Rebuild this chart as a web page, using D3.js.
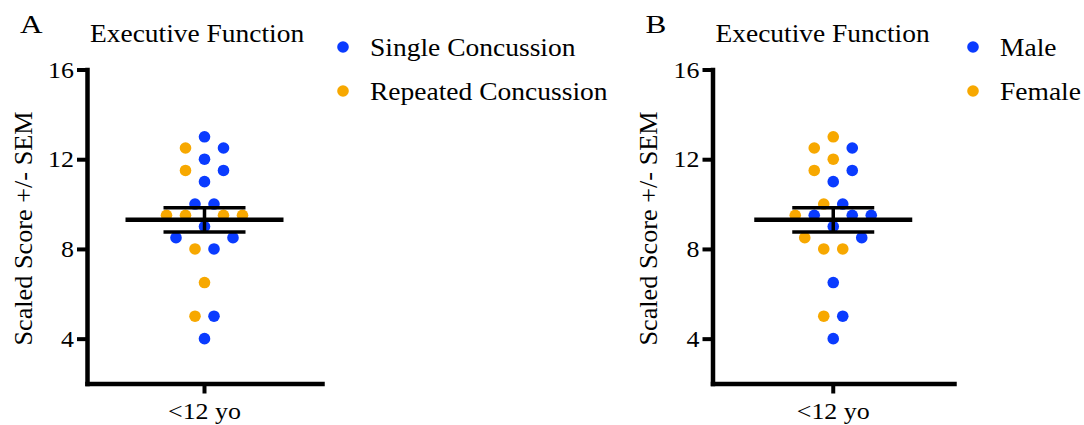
<!DOCTYPE html>
<html>
<head>
<meta charset="utf-8">
<script src="https://cdn.jsdelivr.net/npm/d3@7"></script>
<style>
  html, body { margin: 0; padding: 0; background: #fff; }
  svg { display: block; font-family: "Liberation Serif", "Times New Roman", serif; }
</style>
</head>
<body>
<svg id="chart" width="1084" height="425"></svg>
<script>
// ---- data ----
const categories = ["<12 yo"];
const yTicks = [4, 8, 12, 16];
const yDomain = [2, 16];
const panelLabels = ["A", "B"];
const panelTitle = "Executive Function";
const yAxisTitle = "Scaled Score +/- SEM";

// Panel A
const legendA = ["Single Concussion", "Repeated Concussion"];
const singleValues = [13, 12.5, 12, 11.5, 11, 10, 10, 9, 8.5, 8.5, 8, 5, 4];
const repeatedValues = [12.5, 11.5, 9.5, 9.5, 9.5, 9.5, 8, 6.5, 5];

// Panel B
const legendB = ["Male", "Female"];
const maleValues = [12.5, 11.5, 11, 10, 9.5, 9.5, 9.5, 9, 8.5, 6.5, 5, 4];
const femaleValues = [13, 12.5, 12, 11.5, 10, 9.5, 8.5, 8, 8, 5];

const colors = ["#0a3bff", "#f7a800"];

// ---- drawing ----
const svg = d3.select("#chart");
const R = 5.8;
const SLOT = 9.5;

// widen glyphs slightly (reference type is set wider than Liberation Serif)
function widen(sel, k) {
  sel.each(function () {
    const w = this.getComputedTextLength();
    d3.select(this).attr("textLength", w * k).attr("lengthAdjust", "spacingAndGlyphs");
  });
}

function drawPanel(cfg) {
  const g = svg.append("g");
  const y = d3.scaleLinear().domain(yDomain).range([383.5, 69.5]);
  const x = d3.scaleBand().domain(categories).range([cfg.x0, cfg.x1]);
  const cx = x(categories[0]) + x.bandwidth() / 2;

  // points
  const pts = [];
  cfg.series.forEach((vals, gi) => vals.forEach(v => pts.push({ v, gi })));
  pts.sort((a, b) => a.v - b.v || a.gi - b.gi);
  let i = 0;
  while (i < pts.length) {
    const start = y(pts[i].v);
    const bin = [];
    while (i < pts.length && start - y(pts[i].v) < R * 3) { bin.push(pts[i]); i++; }
    bin.sort((a, b) => a.v - b.v || a.gi - b.gi);
    const n = bin.length;
    bin.forEach((p, k) => {
      if (n % 2 === 1) {
        p.off = k === 0 ? 0 : (k % 2 === 1 ? 1 : -1) * 2 * Math.ceil(k / 2);
      } else {
        p.off = (k % 2 === 0 ? 1 : -1) * (2 * Math.floor(k / 2) + 1);
      }
    });
  }

  g.selectAll("circle.pt").data(pts).join("circle")
    .attr("class", "pt")
    .attr("cx", d => cx + d.off * SLOT)
    .attr("cy", d => y(d.v))
    .attr("r", R)
    .attr("fill", d => colors[d.gi]);

  // mean +/- SEM
  const all = pts.map(p => p.v);
  const mean = d3.mean(all);
  const sem = d3.deviation(all) / Math.sqrt(all.length);
  g.append("line").attr("x1", cx).attr("x2", cx)
    .attr("y1", y(mean + sem)).attr("y2", y(mean - sem))
    .attr("stroke", "#000").attr("stroke-width", 3.5);
  [mean + sem, mean - sem].forEach(v => {
    g.append("line").attr("x1", cx - 41).attr("x2", cx + 41)
      .attr("y1", y(v)).attr("y2", y(v))
      .attr("stroke", "#000").attr("stroke-width", 3.5);
  });
  g.append("line").attr("x1", cx - 79).attr("x2", cx + 79)
    .attr("y1", y(mean)).attr("y2", y(mean))
    .attr("stroke", "#000").attr("stroke-width", 4.5);

  // axes
  const ya = g.append("g").attr("transform", `translate(${cfg.x0},0)`)
    .call(d3.axisLeft(y).tickValues(yTicks).tickSize(10).tickSizeOuter(0).tickPadding(3));
  const xa = g.append("g").attr("transform", `translate(0,${y(yDomain[0])})`)
    .call(d3.axisBottom(x).tickSize(10).tickSizeOuter(0).tickPadding(8));
  [ya, xa].forEach(a => {
    a.select(".domain").attr("stroke", "#000").attr("stroke-width", 4.5).attr("stroke-linecap", "square");
    a.selectAll(".tick line").attr("stroke", "#000").attr("stroke-width", 4);
    a.selectAll("text").attr("font-size", 24).attr("font-family", "Liberation Serif").attr("fill", "#000");
    widen(a.selectAll("text"), 1.08);
  });

  // y axis title
  const yt = g.append("text")
    .attr("transform", `translate(${cfg.x0 - 64},${(y(yDomain[0]) + y(yDomain[1])) / 2 + 2}) rotate(-90)`)
    .attr("text-anchor", "middle").attr("dominant-baseline", "central")
    .attr("font-size", 25).text(yAxisTitle);
  widen(yt, 1.05);

  // panel label and title
  const pl = g.append("text").attr("x", cfg.x0 - 67).attr("y", 33).attr("font-size", 26).text(cfg.label);
  widen(pl, 1.2);
  const tt = g.append("text").attr("x", cfg.x0 + 3).attr("y", 42).attr("font-size", 24.5).text(panelTitle);
  widen(tt, 1.12);

  // legend
  cfg.legend.forEach((t, k) => {
    const ly = 47 + k * 44;
    g.append("circle").attr("cx", cfg.legX).attr("cy", ly).attr("r", R).attr("fill", colors[k]);
    const lt = g.append("text").attr("x", cfg.legX + 27).attr("y", ly).attr("dominant-baseline", "central")
      .attr("font-size", 25).text(t);
    widen(lt, 1.1);
  });
}

drawPanel({ x0: 87, x1: 322, series: [singleValues, repeatedValues], legend: legendA, legX: 343, label: panelLabels[0] });
drawPanel({ x0: 712.5, x1: 954, series: [maleValues, femaleValues], legend: legendB, legX: 973, label: panelLabels[1] });
</script>
</body>
</html>
